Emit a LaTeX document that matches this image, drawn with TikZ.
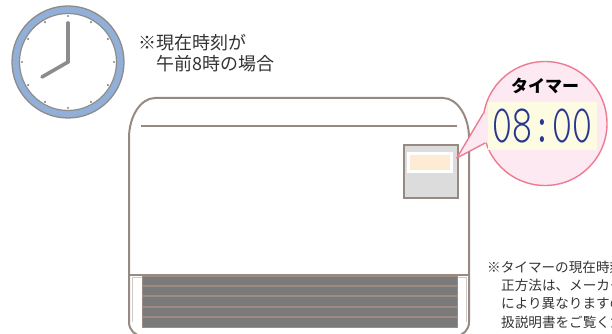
\documentclass[tikz,border=0pt]{standalone}
\usepackage{fontspec}
\newfontfamily\jp{Noto Sans CJK JP}
\newfontfamily\digfont{lmmonolt10-regular.otf}[FakeStretch=0.7]
\usetikzlibrary{calc}

\definecolor{clkblue}{HTML}{92AFD7}
\definecolor{clkgray}{HTML}{8C8C8C}
\definecolor{bodycol}{HTML}{978A83}
\definecolor{grillefill}{HTML}{7A7A7A}
\definecolor{grillesep}{HTML}{9C8B82}
\definecolor{lipcol}{HTML}{CFC7C3}
\definecolor{panelfill}{HTML}{DCDCDC}
\definecolor{screenfill}{HTML}{FDEBD4}
\definecolor{pinkfill}{HTML}{FDE9F1}
\definecolor{pinkline}{HTML}{EE7A92}
\definecolor{dispyellow}{HTML}{FDFBE2}
\definecolor{segblue}{HTML}{27378F}
\definecolor{textcol}{HTML}{333333}

\tikzset{
  hand/.style={draw=clkgray, line width=3.6, line cap=round},
  body/.style={draw=bodycol, line width=2},
  lip/.style={draw=lipcol, line width=0.8},
  captext/.style={anchor=base west, inner sep=0, text=textcol,
    font=\jp\fontsize{18}{18}\selectfont},
  notetext/.style={anchor=base west, inner sep=0, text=textcol,
    font=\jp\fontsize{13.6}{13.6}\selectfont},
}

\begin{document}
\begin{tikzpicture}[x=1pt,y=-1pt]
\useasboundingbox (0,0) rectangle (612,334);
\clip (0,0) rectangle (612,334);

% wall clock
\node[circle, draw=clkgray, line width=1.3, fill=clkblue, minimum size=112, inner sep=0] (rim) at (68,62) {};
\node[circle, draw=clkgray, line width=1.2, fill=white, minimum size=97, inner sep=0] (face) at (68,62) {};
\foreach \a in {0,30,...,330}
  \fill[clkgray] ($(face.center)+(\a:46)$) circle (1.2);
\coordinate (minutetip) at (68,23);
\coordinate (hourtip) at (42,77);
\draw[hand] (face.center) -- (minutetip);
\draw[hand] (face.center) -- (hourtip);

% caption
\node[captext] (cap1) at (138,50) {※現在時刻が};
\node[captext] (cap2) at (156,71) {午前8時の場合};

% heater body
\draw[body] (129,322) -- (129,138)
  .. controls (129,116) and (141,98) .. (155,98) -- (443,98)
  .. controls (457,98) and (469,116) .. (469,138) -- (469,322)
  .. controls (469,330) and (463,336) .. (455,336) -- (143,336)
  .. controls (135,336) and (129,330) .. (129,322);
\draw[body] (141,126) -- (457,126);

% lower lip and grille
\draw[lip] (142,277.5) -- (132,277.5) -- (132,322);
\draw[lip] (457,277.5) -- (466,277.5) -- (466,322);
\node[draw=grillesep, line width=1.2, fill=grillefill, anchor=north west,
  minimum width=315, minimum height=51, inner sep=0] (grille) at (142,276) {};
\foreach \y in {285.5,296,306.5,317}
  \draw[grillesep, line width=2] (grille.west |- 0,\y) -- (grille.east |- 0,\y);
\draw[body] (129,275) -- (469,275);

% control panel
\node[draw=bodycol, line width=1.8, fill=panelfill, anchor=north west,
  minimum width=54, minimum height=53, inner sep=0] (panel) at (403,144) {};
\node[draw=white, line width=3, fill=screenfill, minimum width=43,
  minimum height=18, inner sep=0] (screen) at (430,162.5) {};

% speech bubble with the timer display
\coordinate (tip) at ($(panel.north east)+(-2,14)$);
\node[circle, draw=pinkline, line width=1.4, fill=pinkfill, minimum size=124, inner sep=0] (bubble) at (545,123.5) {};
\fill[pinkfill] (bubble.171) -- (tip) -- (bubble.198) -- (bubble.center) -- cycle;
\draw[pinkline, line width=1.4, line join=round] (bubble.171) -- (tip) -- (bubble.198);
\node[anchor=base, inner sep=0, text=black, font=\jp\bfseries\fontsize{17}{17}\selectfont] (title) at (545,93) {タイマー};
\node[fill=dispyellow, minimum width=109, minimum height=48, inner sep=0,
  text=segblue, font=\digfont\fontsize{54}{54}\selectfont] (display) at (542.5,126) {08:00};

% footnote
\node[notetext] (n1) at (487,272) {※タイマーの現在時刻の修};
\node[notetext] (n2) at (501,290) {正方法は、メーカーや機種};
\node[notetext] (n3) at (501,308) {により異なりますので、取};
\node[notetext] (n4) at (501,327) {扱説明書をご覧ください。};
\end{tikzpicture}
\end{document}
